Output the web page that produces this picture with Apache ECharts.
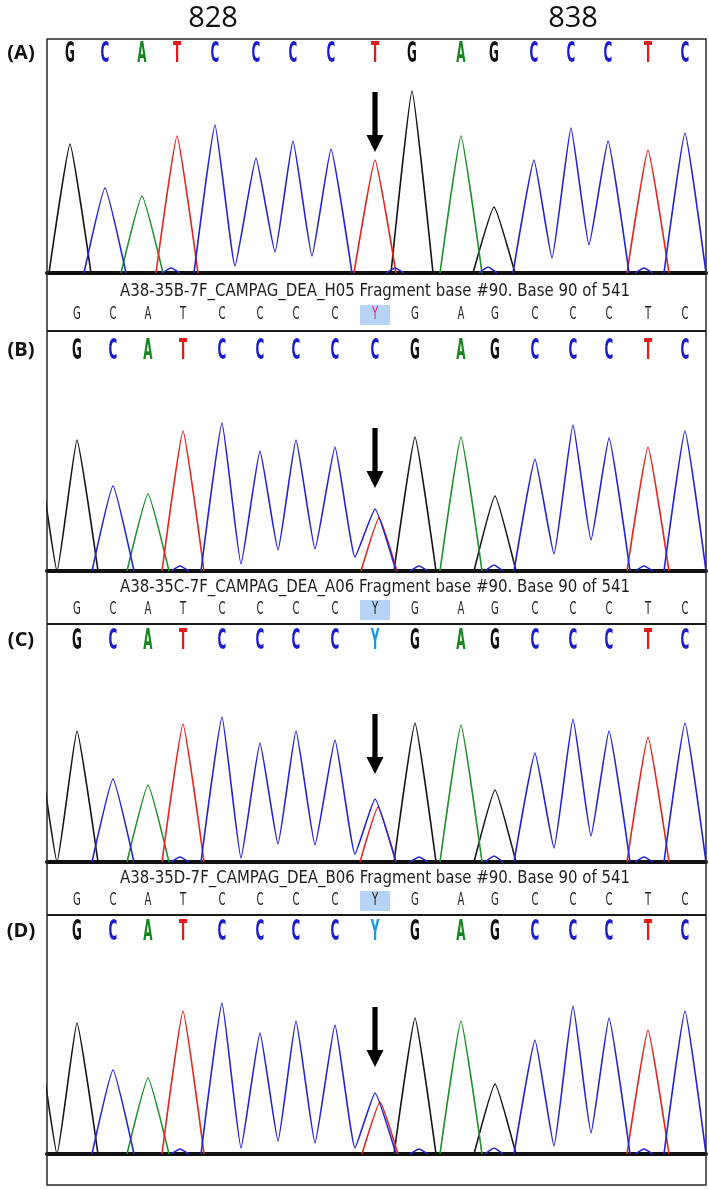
<!DOCTYPE html>
<html>
<head>
<meta charset="utf-8">
<title>Chromatograms</title>
<script src="https://cdn.jsdelivr.net/npm/echarts/dist/echarts.min.js"></script>
<style>body{margin:0;background:#fff;}</style>
</head>
<body>
<div id="main" style="width:709px;height:1189px;"></div>
<script type="text/javascript">
// called bases, one per peak
var callsA = ['G','C','A','T','C','C','C','C','T','G','A','G','C','C','C','T','C'];
var callsB = ['G','C','A','T','C','C','C','C','C','G','A','G','C','C','C','T','C'];
var callsC = ['G','C','A','T','C','C','C','C','Y','G','A','G','C','C','C','T','C'];
var callsD = ['G','C','A','T','C','C','C','C','Y','G','A','G','C','C','C','T','C'];
var headerCalls = ['G','C','A','T','C','C','C','C','Y','G','A','G','C','C','C','T','C'];

// peak positions (scan units) and peak heights
var scanA   = [23,58,95,130,168,209,246,284,328,365,414,447,487,524,561,601,638];
var scanBCD = [30,66,101,136,175,213,249,288,328,368,414,448,488,526,562,601,638];
var heightA = [129,85,77,137,148,115,132,124,113,182,137,66,113,145,132,123,140];
var heightB = [131,85,77,140,148,120,131,124,62,134,134,75,112,146,133,124,140];
var heightC = [131,83,77,138,145,119,131,122,63,139,137,72,109,143,131,125,139];
var heightD = [131,84,76,143,151,121,133,129,61,136,133,70,114,148,136,124,143];

// second (T) peak under the C/Y call: [scan, height]
var mixB = [332,53];
var mixC = [331,55];
var mixD = [333,52];

// tail of the peak before the first base in B, C, D
var leadBCD = [-10,120];

// valleys between neighbouring peaks of one dye: [scan, height, dye]
var valleysA = [[188,7,'C'],[228,21,'C'],[265,17,'C'],[505,15,'C'],[542,28,'C']];
var valleysB = [[10,0,'G'],[194,7,'C'],[231,21,'C'],[268,22,'C'],[308,14,'C'],[507,17,'C'],[544,31,'C']];
var valleysC = [[10,0,'G'],[194,4,'C'],[231,18,'C'],[268,17,'C'],[308,8,'C'],[507,14,'C'],[544,26,'C']];
var valleysD = [[10,0,'G'],[194,6,'C'],[231,13,'C'],[268,11,'C'],[308,6,'C'],[507,8,'C'],[544,21,'C']];

// small background bumps on the baseline: [scan, height, dye]
var bumpsA   = [[124,5,'C'],[348,5,'C'],[441,6,'C'],[597,5,'C']];
var bumpsBCD = [[133,5,'C'],[372,5,'C'],[447,6,'C'],[597,5,'C']];

// arrow tips: [scan, height]
var arrowTips = [[328,121],[328,83],[328,88],[328,87]];

var fileNames = ['A38-35B-7F_CAMPAG_DEA_H05','A38-35C-7F_CAMPAG_DEA_A06','A38-35D-7F_CAMPAG_DEA_B06'];
var fileInfo = ' Fragment base #90. Base 90 of 541';

var traceColor = {G:'#151515', C:'#2323d6', A:'#1f8f2c', T:'#e3261f'};
var letterColor = {G:'#111111', C:'#1a1ad0', A:'#14881e', T:'#e01b1b', Y:'#1c9de2'};

var PEAK_HALF = 21, MIX_HALF = 18, BUMP_HALF = 9;

var panels = [
    {calls: callsA, scan: scanA, heights: heightA, mix: null, lead: null, valleys: valleysA, bumps: bumpsA},
    {calls: callsB, scan: scanBCD, heights: heightB, mix: mixB, lead: leadBCD, valleys: valleysB, bumps: bumpsBCD},
    {calls: callsC, scan: scanBCD, heights: heightC, mix: mixC, lead: leadBCD, valleys: valleysC, bumps: bumpsBCD},
    {calls: callsD, scan: scanBCD, heights: heightD, mix: mixD, lead: leadBCD, valleys: valleysD, bumps: bumpsBCD}
];

// page layout (pixels)
var layout = [
    {top: 39,  base: 273,  letterY: 55},
    {top: 277, base: 571,  letterY: 352, headY: 291, headLetterY: 315, sepY: 331},
    {top: 575, base: 862,  letterY: 642, headY: 587, headLetterY: 610, sepY: 624},
    {top: 866, base: 1154, letterY: 933, headY: 878, headLetterY: 901, sepY: 915}
];
var LEFT = 47, RIGHT = 706, BOTTOM = 1185;

function dyeOf(b) { return b === 'Y' ? 'C' : b; }

// polyline for one dye: feet, peak tops, valleys between touching peaks
function traceFor(dye, p) {
    var peaks = [];
    p.calls.forEach(function (b, i) {
        if (dyeOf(b) === dye) peaks.push([p.scan[i], p.heights[i], PEAK_HALF]);
    });
    if (p.mix && dye === 'T') peaks.push([p.mix[0], p.mix[1], MIX_HALF]);
    if (p.lead && dye === 'G') peaks.push([p.lead[0], p.lead[1], PEAK_HALF]);
    p.bumps.forEach(function (b) { if (b[2] === dye) peaks.push([b[0], b[1], BUMP_HALF]); });
    peaks.sort(function (a, b) { return a[0] - b[0]; });
    var pts = [];
    peaks.forEach(function (pk, k) {
        var prev = peaks[k - 1];
        if (prev && pk[0] - pk[2] < prev[0] + prev[2]) {
            var v = p.valleys.filter(function (v) { return v[2] === dye && v[0] > prev[0] && v[0] < pk[0]; })[0];
            pts.push(v ? [v[0], v[1]] : [(prev[0] + pk[0]) / 2, 0]);
        } else {
            if (prev) {
                pts.push([prev[0] + prev[2], 0]);
                pts.push([prev[0] + prev[2], '-']);
            }
            pts.push([pk[0] - pk[2], 0]);
        }
        pts.push([pk[0], pk[1]]);
        if (k === peaks.length - 1) pts.push([pk[0] + pk[2], 0]);
    });
    return pts;
}

var myChart = echarts.init(document.getElementById('main'), null, {renderer: 'canvas'});

var grids = [], xAxes = [], yAxes = [], series = [];
layout.forEach(function (L, i) {
    grids.push({left: LEFT, width: RIGHT - LEFT, top: L.top, height: L.base - L.top});
    xAxes.push({type: 'value', gridIndex: i, min: 0, max: RIGHT - LEFT,
        axisLine: {show: true, onZero: false, lineStyle: {color: '#111', width: 4}},
        axisTick: {show: false}, axisLabel: {show: false}, splitLine: {show: false}});
    yAxes.push({type: 'value', gridIndex: i, min: 0, max: L.base - L.top, show: false});
});

panels.forEach(function (p, i) {
    var L = layout[i];
    ['G', 'A', 'T', 'C'].forEach(function (dye, z) {
        series.push({
            type: 'line', xAxisIndex: i, yAxisIndex: i,
            data: traceFor(dye, p),
            showSymbol: false, smooth: 0.12,
            lineStyle: {color: traceColor[dye], width: 1.6},
            z: 3 + z, animation: false, silent: true
        });
    });
    // base calls on top of the trace
    series.push({
        type: 'custom', xAxisIndex: i, yAxisIndex: i, animation: false, silent: true, z: 10,
        data: p.calls.map(function (b, k) { return [p.scan[k], L.base - L.letterY]; }),
        renderItem: function (params, api) {
            var pt = api.coord([api.value(0), api.value(1)]);
            var b = p.calls[params.dataIndex];
            return {type: 'text', x: pt[0], y: pt[1], scaleX: 0.6, scaleY: 1.42,
                style: {text: b, fill: letterColor[b], font: 'bold 20px "DejaVu Sans"',
                    align: 'center', verticalAlign: 'middle'}};
        }
    });
    // arrow
    series.push({
        type: 'custom', xAxisIndex: i, yAxisIndex: i, animation: false, silent: true, z: 12,
        data: [arrowTips[i]],
        renderItem: function (params, api) {
            var t = api.coord([api.value(0), api.value(1)]);
            var x = t[0], y = t[1];
            return {type: 'polygon', shape: {points: [
                [x - 2.6, y - 60], [x + 2.6, y - 60], [x + 2.6, y - 17], [x + 8.5, y - 17],
                [x, y], [x - 8.5, y - 17], [x - 2.6, y - 17]]},
                style: {fill: '#000'}};
        }
    });
    // header row of the viewer window (B, C, D)
    if (i > 0) {
        series.push({
            type: 'custom', xAxisIndex: i, yAxisIndex: i, animation: false, silent: true, z: 10,
            data: headerCalls.map(function (b, k) { return [p.scan[k], L.base - L.headLetterY]; }),
            renderItem: function (params, api) {
                var pt = api.coord([api.value(0), api.value(1)]);
                var b = headerCalls[params.dataIndex];
                var kids = [];
                if (b === 'Y') {
                    kids.push({type: 'rect', shape: {x: pt[0] - 15, y: pt[1] - 10, width: 30, height: 20},
                        style: {fill: '#b7d4f5'}});
                }
                kids.push({type: 'text', x: pt[0], y: pt[1], scaleX: 0.72, scaleY: 1.2,
                    style: {text: b, fill: (b === 'Y' && i === 1) ? '#e0228c' : '#222',
                        font: '14px "DejaVu Sans"', align: 'center', verticalAlign: 'middle'}});
                return {type: 'group', children: kids};
            }
        });
    }
});

// frame, separators, header texts, labels
var ctx = document.createElement('canvas').getContext('2d');
ctx.font = '17px "DejaVu Sans"';
var graphics = [
    {type: 'rect', shape: {x: LEFT, y: layout[0].top, width: RIGHT - LEFT, height: BOTTOM - layout[0].top},
        style: {fill: 'none', stroke: '#2a2a2a', lineWidth: 1.5}, z: 50},
    {type: 'text', x: 213, y: 19, style: {text: '828', font: '29px "Open Sans"', fill: '#111', align: 'center', verticalAlign: 'middle'}},
    {type: 'text', x: 573, y: 19, style: {text: '838', font: '29px "Open Sans"', fill: '#111', align: 'center', verticalAlign: 'middle'}}
];
['(A)', '(B)', '(C)', '(D)'].forEach(function (t, i) {
    graphics.push({type: 'text', x: 21, y: layout[i].letterY - 2,
        style: {text: t, font: 'bold 20px "Open Sans"', fill: '#111', align: 'center', verticalAlign: 'middle'}});
});
layout.forEach(function (L, i) {
    if (i === 0) return;
    var txt = fileNames[i - 1] + fileInfo;
    var w = ctx.measureText(txt).width;
    graphics.push({type: 'text', x: 375, y: L.headY, scaleX: 510 / w, scaleY: 1.05,
        style: {text: txt, font: '17px "DejaVu Sans"', fill: '#1e1e1e', align: 'center', verticalAlign: 'middle'}});
    graphics.push({type: 'line', shape: {x1: LEFT, y1: L.sepY, x2: RIGHT, y2: L.sepY},
        style: {stroke: '#1a1a1a', lineWidth: 2}, z: 50});
});

var option = {
    animation: false,
    grid: grids,
    xAxis: xAxes,
    yAxis: yAxes,
    series: series,
    graphic: graphics
};
myChart.setOption(option);
</script>
</body>
</html>
